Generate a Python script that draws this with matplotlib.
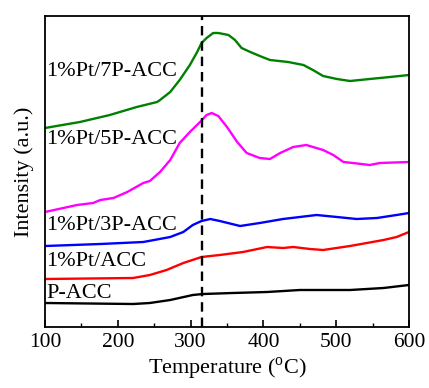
import matplotlib
matplotlib.use("Agg")
import matplotlib.pyplot as plt
from matplotlib.ticker import MultipleLocator

plt.rcParams['font.family'] = ['Liberation Serif', 'DejaVu Serif']
plt.rcParams['mathtext.fontset'] = 'custom'
plt.rcParams['mathtext.rm'] = 'Liberation Serif'

# Intensity (a.u.)
t_pacc = [100, 221, 244, 272, 303, 317, 358, 405, 450, 519, 565, 600]
i_pacc = [24, 23, 24, 27, 32, 33, 34, 35, 37, 37, 39, 42]

t_acc = [100, 221, 244, 267, 290, 315, 340, 372, 405, 427, 441, 464, 482, 519, 565, 583, 600]
i_acc = [48, 49, 52, 57, 64, 70, 72, 75, 80, 79, 80, 78, 77, 81, 87, 90, 95]

t_3p = [100, 176, 235, 272, 290, 303, 315, 327, 340, 368, 395, 427, 450, 473, 501, 528, 556,
        583, 600]
i_3p = [81, 83, 85, 90, 95, 102, 106, 108, 106, 101, 104, 108, 110, 112, 110, 108, 109,
        112, 114]

t_5p = [100, 144, 166, 176, 194, 213, 235, 244, 258, 272, 285, 299, 313, 322, 329, 338, 350,
        364, 377, 395, 409, 423, 441, 459, 482, 496, 510, 523, 546, 560, 600]
i_5p = [115, 122, 124, 127, 129, 135, 144, 146, 155, 167, 184, 195, 205, 212, 214, 211, 200,
        185, 174, 169, 168, 174, 180, 182, 177, 172, 165, 164, 162, 164, 165]

t_7p = [100, 148, 189, 226, 254, 258, 272, 285, 299, 309, 315, 322, 331, 338, 352, 361, 370,
        382, 395, 409, 434, 455, 468, 482, 501, 519, 546, 574, 600]
i_7p = [199, 205, 212, 220, 225, 227, 235, 247, 262, 275, 284, 289, 294, 294, 292, 287, 279,
        275, 271, 267, 265, 262, 257, 251, 248, 246, 248, 250, 252]

labels = ['P-ACC', '1%Pt/ACC', '1%Pt/3P-ACC', '1%Pt/5P-ACC', '1%Pt/7P-ACC']
colors = ['black', 'red', 'blue', 'magenta', 'green']
label_y = [34, 66, 102, 188, 255]
dash_t = 315

fig = plt.figure(figsize=(4.29, 3.88), dpi=100)
ax = fig.add_axes([45/429, 61/388, 364/429, 311/388])

series = [(t_pacc, i_pacc), (t_acc, i_acc), (t_3p, i_3p), (t_5p, i_5p), (t_7p, i_7p)]
for (t, i), c, lab, ly in zip(series, colors, labels, label_y):
    ax.plot(t, i, color=c, lw=1.7, solid_joinstyle='round')
    ax.text(102, ly, lab, fontsize=16, ha='left', va='center')

ax.axvline(dash_t, color='black', lw=1.7, ls=(0, (4, 2.5)))

ax.set_xlim(100, 600)
ax.set_ylim(0, 311)
ax.xaxis.set_major_locator(MultipleLocator(100))
ax.xaxis.set_minor_locator(MultipleLocator(50))
ax.tick_params(axis='x', which='major', direction='in', length=5, width=1.2, labelsize=15.5, pad=4)
ax.tick_params(axis='x', which='minor', direction='in', length=3, width=1.0)
ax.set_yticks([])
for s in ax.spines.values():
    s.set_linewidth(1.3)
ax.set_xlabel('Temperature ($^{\\rm o}$C)', fontsize=16, labelpad=3)
ax.set_ylabel('Intensity (a.u.)', fontsize=16, labelpad=8)

fig.savefig('out.png', dpi=100)
